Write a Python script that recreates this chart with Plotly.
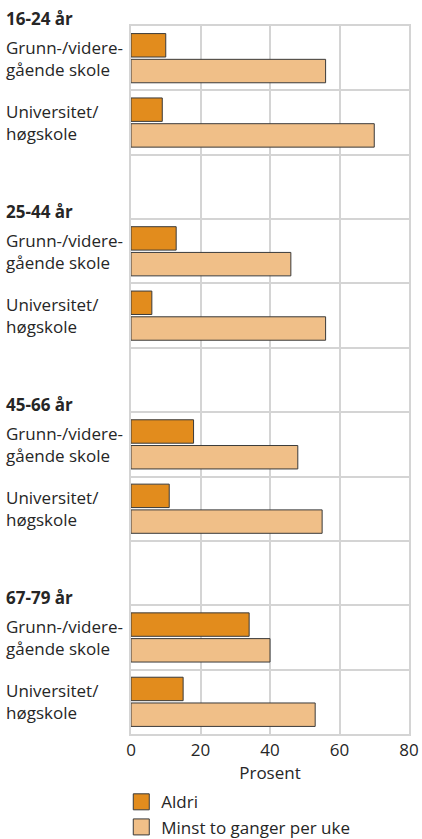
import plotly.graph_objects as go

groups = ["16-24 år", "25-44 år", "45-66 år", "67-79 år"]
edu = ["Grunn-/videre-<br>gående skole", "Universitet/<br>høgskole"]
aldri = [10, 9, 13, 6, 18, 11, 34, 15]
minst = [56, 70, 46, 56, 48, 55, 40, 53]
x_ticks = [0, 20, 40, 60, 80]
series_names = ["Aldri", "Minst to ganger per uke"]
colors = ["#e28c1d", "#f0bf88"]

FONT = "Open Sans"
TXT = "#262626"
GRID = "#d4d4d4"

# build rows (with spacer rows between age groups)
rows, a_vals, m_vals, row_labels, header_idx = [], [], [], [], []
k = 0
for gi, g in enumerate(groups):
    if gi > 0:
        rows.append(f"sp{gi}")
        a_vals.append(None)
        m_vals.append(None)
        row_labels.append(None)
    header_idx.append(len(rows))
    for ei, e in enumerate(edu):
        rows.append(f"{g}|{ei}")
        a_vals.append(aldri[k])
        m_vals.append(minst[k])
        row_labels.append(e)
        k += 1

fig = go.Figure()
for name, vals, col in zip(series_names, [a_vals, m_vals], colors):
    fig.add_trace(go.Bar(
        y=rows, x=vals, orientation="h", name=name,
        marker=dict(color=col, line=dict(color="#3a3a3a", width=1)),
        showlegend=False, hoverinfo="x+name",
    ))
# legend entries
for name, col in zip(series_names, colors):
    fig.add_trace(go.Scatter(
        x=[None], y=[None], mode="markers", name=name,
        marker=dict(symbol="square", size=16, color=col, line=dict(color="#3a3a3a", width=1)),
    ))

ann = []
for r, lab in zip(rows, row_labels):
    if lab is None:
        continue
    ann.append(dict(text=lab, xref="paper", x=0, xshift=-127, xanchor="left",
                    yref="y", y=r, yanchor="middle", align="left", showarrow=False,
                    font=dict(family=FONT, size=17, color=TXT)))
for g, idx in zip(groups, header_idx):
    ann.append(dict(text=f"<b>{g}</b>", xref="paper", x=0, xshift=-127, xanchor="left",
                    yref="y", y=idx - 0.5, yanchor="bottom", yshift=-6, align="left",
                    showarrow=False, font=dict(family=FONT, size=17, color=TXT)))

n = len(rows)
fig.update_layout(
    width=422, height=839,
    margin=dict(l=131, r=13, t=26, b=105, autoexpand=False),
    paper_bgcolor="white", plot_bgcolor="white",
    barmode="group", bargap=0.2, bargroupgap=0.09,
    font=dict(family=FONT, size=17, color=TXT),
    annotations=ann,
    xaxis=dict(range=[0, 80], tickvals=x_ticks, showgrid=True, gridcolor=GRID, gridwidth=2,
               zeroline=False, showline=True, mirror=True, linecolor=GRID, linewidth=2,
               ticks="", tickfont=dict(size=17, color=TXT), automargin=False,
               title=dict(text="Prosent", font=dict(size=17, color=TXT), standoff=2)),
    yaxis=dict(type="category", categoryorder="array", categoryarray=rows,
               range=[n - 0.5, -0.5], tickson="boundaries", showticklabels=False,
               showgrid=True, gridcolor=GRID, gridwidth=2, ticks="", automargin=False,
               showline=True, mirror=True, linecolor=GRID, linewidth=2, zeroline=False),
    legend=dict(x=-0.035, xanchor="left", xref="paper", y=-0.071, yanchor="top",
                orientation="v", font=dict(size=17, color=TXT), tracegroupgap=0,
                bgcolor="rgba(0,0,0,0)", itemclick=False),
    showlegend=True,
)

fig.write_html("out.html", config={"displayModeBar": False},
               post_script="document.body.style.margin='0';")
